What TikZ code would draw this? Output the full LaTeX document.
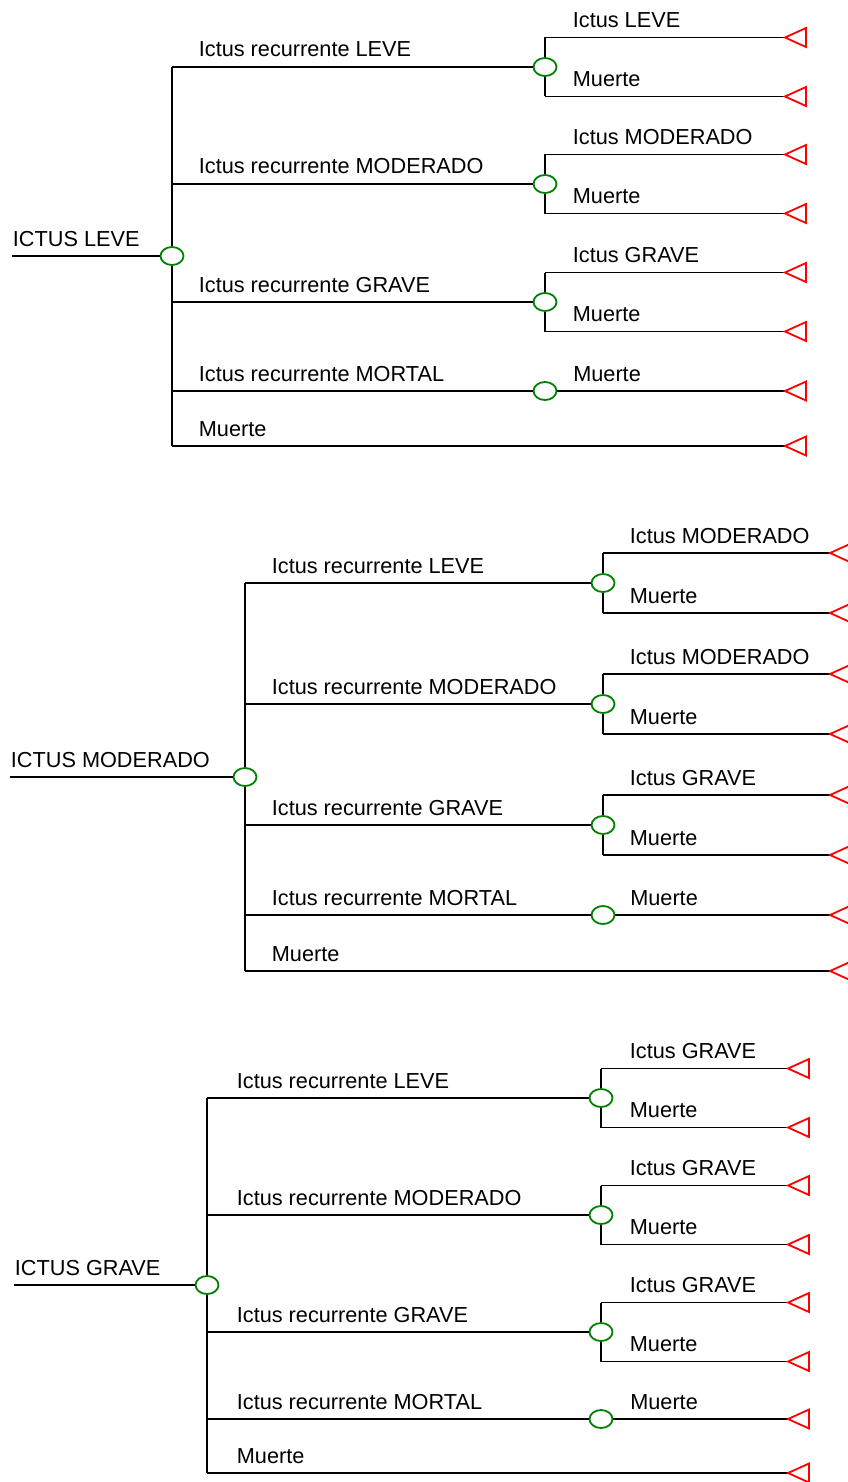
\documentclass[tikz,border=0pt]{standalone}
\usepackage{fontspec}
\setmainfont{Liberation Sans}
\usetikzlibrary{shapes.geometric}

\tikzset{
  rama/.style={line width=1.8pt},
  azar/.style={ellipse,draw=green!50!black,line width=1.8pt,fill=white,
    minimum width=23pt,minimum height=18pt,inner sep=0pt},
  etiq/.style={anchor=base west,inner sep=0pt,font=\fontsize{21.7}{26}\selectfont},
  fin/.pic={\draw[red,line width=1.8pt] (0,0) -- (21,9.5) -- (21,-9.5) -- cycle;}
}

\begin{document}
\begin{tikzpicture}[x=1pt,y=-1pt]
\useasboundingbox (0,0) rectangle (848,1482);

% ICTUS LEVE
\coordinate (r1) at (12,256);
\node[azar] (a1) at (172,256) {};
\draw[rama] (r1) -- (a1) node[pos=0,etiq,yshift=10pt] {ICTUS LEVE};
\coordinate (b11) at (172,67);
\coordinate (b15) at (172,446);
\draw[rama] (b11) -- (a1) -- (b15);
\foreach \y/\n/\s [count=\i] in {67/LEVE/LEVE,184/MODERADO/MODERADO,302/GRAVE/GRAVE}{
  \coordinate (b1\i) at (172,\y);
  \node[azar] (c1\i) at (545,\y) {};
  \coordinate (u1\i) at (545,\y-29.5);
  \coordinate (d1\i) at (545,\y+29.5);
  \coordinate (p1\i) at (785,\y-29.5);
  \coordinate (q1\i) at (785,\y+29.5);
  \draw[rama] (b1\i) -- (c1\i) node[pos=0,etiq,xshift=26pt,yshift=10pt] {Ictus recurrente \n};
  \draw[rama] (u1\i) -- (c1\i) -- (d1\i);
  \draw[rama] (u1\i) -- (p1\i) node[pos=0,etiq,xshift=27pt,yshift=10pt] {Ictus \s};
  \draw[rama] (d1\i) -- (q1\i) node[pos=0,etiq,xshift=27pt,yshift=10pt] {Muerte};
  \pic at (p1\i) {fin};
  \pic at (q1\i) {fin};
}
\coordinate (b14) at (172,391);
\node[azar] (c14) at (545,391) {};
\coordinate (p14) at (785,391);
\coordinate (p15) at (785,446);
\draw[rama] (b14) -- (c14) node[pos=0,etiq,xshift=26pt,yshift=10pt] {Ictus recurrente MORTAL};
\draw[rama] (c14) -- (p14) node[pos=0,etiq,xshift=15pt,yshift=10pt] {Muerte};
\draw[rama] (b15) -- (p15) node[pos=0,etiq,xshift=26pt,yshift=10pt] {Muerte};
\pic at (p14) {fin};
\pic at (p15) {fin};

% ICTUS MODERADO
\coordinate (r2) at (10,777);
\node[azar] (a2) at (245,777) {};
\draw[rama] (r2) -- (a2) node[pos=0,etiq,yshift=10pt] {ICTUS MODERADO};
\coordinate (b21) at (245,583);
\coordinate (b25) at (245,971);
\draw[rama] (b21) -- (a2) -- (b25);
\foreach \y/\n/\s [count=\i] in {583/LEVE/MODERADO,704/MODERADO/MODERADO,825/GRAVE/GRAVE}{
  \coordinate (b2\i) at (245,\y);
  \node[azar] (c2\i) at (603,\y) {};
  \coordinate (u2\i) at (603,\y-30);
  \coordinate (d2\i) at (603,\y+30);
  \coordinate (p2\i) at (830,\y-30);
  \coordinate (q2\i) at (830,\y+30);
  \draw[rama] (b2\i) -- (c2\i) node[pos=0,etiq,xshift=26pt,yshift=10pt] {Ictus recurrente \n};
  \draw[rama] (u2\i) -- (c2\i) -- (d2\i);
  \draw[rama] (u2\i) -- (p2\i) node[pos=0,etiq,xshift=26pt,yshift=10pt] {Ictus \s};
  \draw[rama] (d2\i) -- (q2\i) node[pos=0,etiq,xshift=26pt,yshift=10pt] {Muerte};
  \pic at (p2\i) {fin};
  \pic at (q2\i) {fin};
}
\coordinate (b24) at (245,915);
\node[azar] (c24) at (603,915) {};
\coordinate (p24) at (830,915);
\coordinate (p25) at (830,971);
\draw[rama] (b24) -- (c24) node[pos=0,etiq,xshift=26pt,yshift=10pt] {Ictus recurrente MORTAL};
\draw[rama] (c24) -- (p24) node[pos=0,etiq,xshift=14pt,yshift=10pt] {Muerte};
\draw[rama] (b25) -- (p25) node[pos=0,etiq,xshift=26pt,yshift=10pt] {Muerte};
\pic at (p24) {fin};
\pic at (p25) {fin};

% ICTUS GRAVE
\coordinate (r3) at (14,1285);
\node[azar] (a3) at (207,1285) {};
\draw[rama] (r3) -- (a3) node[pos=0,etiq,yshift=10pt] {ICTUS GRAVE};
\coordinate (b31) at (207,1098);
\coordinate (b35) at (207,1473);
\draw[rama] (b31) -- (a3) -- (b35);
\foreach \y/\n/\s [count=\i] in {1098/LEVE/GRAVE,1215/MODERADO/GRAVE,1332/GRAVE/GRAVE}{
  \coordinate (b3\i) at (207,\y);
  \node[azar] (c3\i) at (601,\y) {};
  \coordinate (u3\i) at (601,\y-29.5);
  \coordinate (d3\i) at (601,\y+29.5);
  \coordinate (p3\i) at (788,\y-29.5);
  \coordinate (q3\i) at (788,\y+29.5);
  \draw[rama] (b3\i) -- (c3\i) node[pos=0,etiq,xshift=29pt,yshift=10pt] {Ictus recurrente \n};
  \draw[rama] (u3\i) -- (c3\i) -- (d3\i);
  \draw[rama] (u3\i) -- (p3\i) node[pos=0,etiq,xshift=28pt,yshift=10pt] {Ictus \s};
  \draw[rama] (d3\i) -- (q3\i) node[pos=0,etiq,xshift=28pt,yshift=10pt] {Muerte};
  \pic at (p3\i) {fin};
  \pic at (q3\i) {fin};
}
\coordinate (b34) at (207,1419);
\node[azar] (c34) at (601,1419) {};
\coordinate (p34) at (788,1419);
\coordinate (p35) at (788,1473);
\draw[rama] (b34) -- (c34) node[pos=0,etiq,xshift=29pt,yshift=10pt] {Ictus recurrente MORTAL};
\draw[rama] (c34) -- (p34) node[pos=0,etiq,xshift=16pt,yshift=10pt] {Muerte};
\draw[rama] (b35) -- (p35) node[pos=0,etiq,xshift=29pt,yshift=10pt] {Muerte};
\pic at (p34) {fin};
\pic at (p35) {fin};

\end{tikzpicture}
\end{document}
